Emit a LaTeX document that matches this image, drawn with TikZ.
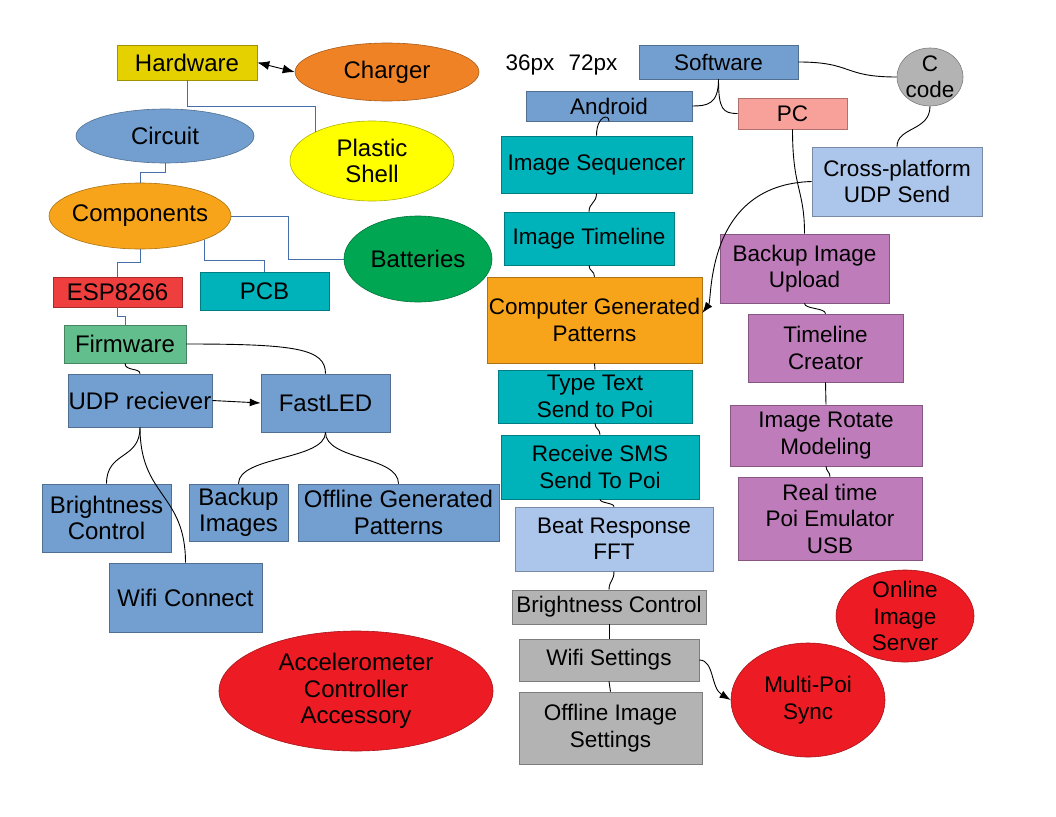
\documentclass[tikz,border=0pt]{standalone}
\usepackage{fontspec}
\setmainfont{Liberation Sans}
\usetikzlibrary{shapes.geometric,arrows.meta}
\definecolor{hwY}{RGB}{229,208,0}
\definecolor{chO}{RGB}{240,130,38}
\definecolor{lbl}{RGB}{114,159,207}
\definecolor{yelw}{RGB}{255,255,0}
\definecolor{orn}{RGB}{247,164,27}
\definecolor{grnB}{RGB}{0,166,81}
\definecolor{tealB}{RGB}{0,178,186}
\definecolor{espR}{RGB}{238,62,62}
\definecolor{fwG}{RGB}{98,190,140}
\definecolor{redE}{RGB}{237,28,36}
\definecolor{gryB}{RGB}{179,179,179}
\definecolor{salB}{RGB}{248,161,154}
\definecolor{plb}{RGB}{172,197,234}
\definecolor{purB}{RGB}{190,124,186}
\definecolor{conB}{RGB}{70,110,170}
\begin{document}
\begin{tikzpicture}[x=1pt,y=-1pt,
  font=\fontsize{22.5}{26.5}\selectfont,
  box/.style={rectangle, draw=#1!70!black, fill=#1, inner sep=0pt, align=center, line width=0.6pt},
  ell/.style={ellipse, draw=#1!70!black, fill=#1, inner sep=0pt, line width=0.6pt},
  sz/.style 2 args={minimum width=#1, minimum height=#2},
  every label/.style={align=center},
  con/.style={line width=0.9pt, black},
  bcon/.style={line width=0.9pt, conB},
  tip/.style={-{Latex[length=11pt,width=8pt]}}
]
\fill[white] (0,0) rectangle (1056,816);
\useasboundingbox (0,0) rectangle (1056,816);

% ---------- Hardware side ----------
\begin{scope}[font=\fontsize{24}{26.5}\selectfont]
\node[box=hwY, sz={140pt}{35pt}] (hw) at (187,62.5) {Hardware};
\node[ell=chO, sz={184pt}{58pt}, label=center:Charger] (ch) at (387,72) {};
\node[ell=lbl, sz={178pt}{54pt}, label=center:Circuit] (circ) at (165,136) {};
\node[ell=yelw, sz={164pt}{80pt}, label={center:Plastic\\Shell}] (shell) at (372,161) {};
\node[ell=orn, sz={182pt}{66pt}, label=center:Components] (comp) at (140,216) {};
\node[ell=grnB, sz={148pt}{86pt}, label=center:Batteries] (batt) at (418,259) {};
\node[box=tealB, sz={129pt}{38pt}] (pcb) at (264.5,291) {PCB};
\node[box=espR, sz={129pt}{30pt}] (esp) at (117.5,292) {ESP8266};
\node[box=fwG, sz={122pt}{38pt}] (fw) at (125,344) {Firmware};
\node[box=lbl, sz={144pt}{53pt}] (udp) at (140,400.5) {UDP reciever};
\node[box=lbl, sz={129pt}{58pt}] (fled) at (325.5,403) {FastLED};
\node[box=lbl, sz={129pt}{68pt}] (bc1) at (106.5,518) {Brightness\\Control};
\node[box=lbl, sz={153pt}{69pt}] (wc) at (185.5,597.5) {Wifi Connect};
\node[box=lbl, sz={99pt}{57pt}] (bi) at (238.5,512.5) {Backup\\Images};
\node[box=lbl, sz={201pt}{57pt}] (ogp) at (398.5,512.5) {Offline Generated\\Patterns};
\node[ell=redE, sz={274pt}{120pt}, label={center:Accelerometer\\Controller\\Accessory}] (acc) at (356,691) {};
\end{scope}

% ---------- Software side ----------
\node (t36) at (530,65) {36px};
\node (t72) at (593,65) {72px};
\node[box=lbl, sz={159pt}{34pt}] (sw) at (718.5,62) {Software};
\node[ell=gryB, sz={66pt}{58pt}, label={center:C\\code}] (cc) at (930,77) {};
\node[box=lbl, sz={166pt}{30pt}] (andr) at (609,106) {Android};
\node[box=salB, sz={109pt}{31pt}] (pc) at (792.5,113.5) {PC};
\node[box=tealB, sz={191pt}{57pt}] (seq) at (596.5,164.5) {Image Sequencer};
\node[box=tealB, sz={170pt}{53pt}] (itl) at (589,238.5) {Image Timeline};
\node[box=orn, sz={215pt}{86pt}] (cgp) at (594.5,320) {Computer Generated\\Patterns};
\node[box=plb, sz={170pt}{69pt}] (xp) at (897,181.5) {Cross-platform\\UDP Send};
\node[box=purB, sz={169pt}{69pt}] (biu) at (804.5,268.5) {Backup Image\\Upload};
\node[box=purB, sz={155pt}{68pt}] (tc) at (825.5,348) {Timeline\\Creator};
\node[box=purB, sz={192pt}{61pt}] (irm) at (826,435.5) {Image Rotate\\Modeling};
\node[box=purB, sz={184pt}{83pt}] (rt) at (830,518.5) {Real time\\Poi Emulator\\USB};
\node[box=tealB, sz={194pt}{53pt}] (tt) at (595,396.5) {Type Text\\Send to Poi};
\node[box=tealB, sz={198pt}{64pt}] (sms) at (600,467) {Receive SMS\\Send To Poi};
\node[box=plb, sz={198pt}{64pt}] (beat) at (614,539) {Beat Response\\FFT};
\node[box=gryB, sz={194pt}{34pt}] (bc2) at (609,607) {Brightness Control};
\node[box=gryB, sz={180pt}{42pt}] (ws) at (609,660) {Wifi Settings};
\node[box=gryB, sz={183pt}{72pt}] (ois) at (610.5,728) {Offline Image\\Settings};
\node[ell=redE, sz={138pt}{92pt}, label={center:Online\\Image\\Server}] (srv) at (905,616) {};
\node[ell=redE, sz={154pt}{114pt}, label={center:Multi-Poi\\Sync}] (mps) at (808,700) {};

% ---------- Hardware connectors ----------
\draw[con, {Latex[length=12pt,width=9pt]}-{Latex[length=12pt,width=9pt]}] (hw.east) -- (ch.west);
\draw[bcon] (hw.south) -- ++(0,26) -| (shell.153);
\draw[bcon] (circ.south) -- ++(0,9) -| (comp.north);
\draw[bcon] (comp.east) -- ++(57,0) |- (batt.west);
\draw[bcon] (comp.-20) -- ++(0,21) -| (pcb.north);
\draw[bcon] (comp.south) -- ++(0,13) -| (esp.north);
\draw[bcon] (esp.south) -- ++(0,9) -| (fw.north);
\draw[con] (fw.south) .. controls +(0,8) and +(0,-6) .. (udp.north);
\draw[con] (fw.east) .. controls +(110,0) and +(0,-25) .. (fled.north);
\draw[con, tip] (udp.east) -- (fled.west);
\draw[con] (udp.south) .. controls +(0,33) and +(0,-33) .. (bc1.north);
\draw[con] (udp.south) .. controls +(0,70) and +(0,-70) .. (wc.north);
\draw[con] (fled.south) .. controls +(0,28) and +(0,-28) .. (bi.north);
\draw[con] (fled.south) .. controls +(0,28) and +(0,-28) .. (ogp.north);

% ---------- Software connectors ----------
\draw[con] (sw.east) .. controls +(55,0) and +(-55,0) .. (cc.west);
\draw[con] (sw.south) .. controls +(0,25) and +(15,0) .. (andr.east);
\draw[con] (sw.south) .. controls +(0,30) and +(-15,0) .. (pc.west);
\draw[con] (cc.south) .. controls +(0,25) and +(0,-20) .. (xp.north);
\draw[con] (pc.south) .. controls +(0,60) and +(0,-45) .. (biu.north);
\draw[con, tip] (xp.west) .. controls +(-107,3) and +(10,-13) .. ([yshift=7pt]cgp.east);
\draw[con] (andr.south) .. controls +(0,-8) and +(0,-20) .. (seq.north);
\draw[con] (seq.south) .. controls +(0,10) and +(0,-9) .. (itl.north);
\draw[con] (itl.south) .. controls +(0,6) and +(0,-6) .. (cgp.north);
\draw[con] (cgp.south) -- (tt.north);
\draw[con] (tt.south) .. controls +(0,6) and +(0,-6) .. (sms.north);
\draw[con] (sms.south) .. controls +(0,4) and +(0,-4) .. (beat.north);
\draw[con] (beat.south) .. controls +(0,10) and +(0,-9) .. (bc2.north);
\draw[con] (bc2.south) -- (ws.north);
\draw[con] (ws.south) .. controls +(0,5) and +(0,-5) .. (ois.north);
\draw[con, tip] (ws.east) .. controls +(15,0) and +(-20,-12) .. (mps.west);
\draw[con] (biu.south) .. controls +(0,6) and +(0,-6) .. (tc.north);
\draw[con] (tc.south) -- (irm.north);
\draw[con] (irm.south) .. controls +(0,5) and +(0,-5) .. (rt.north);
\end{tikzpicture}
\end{document}
